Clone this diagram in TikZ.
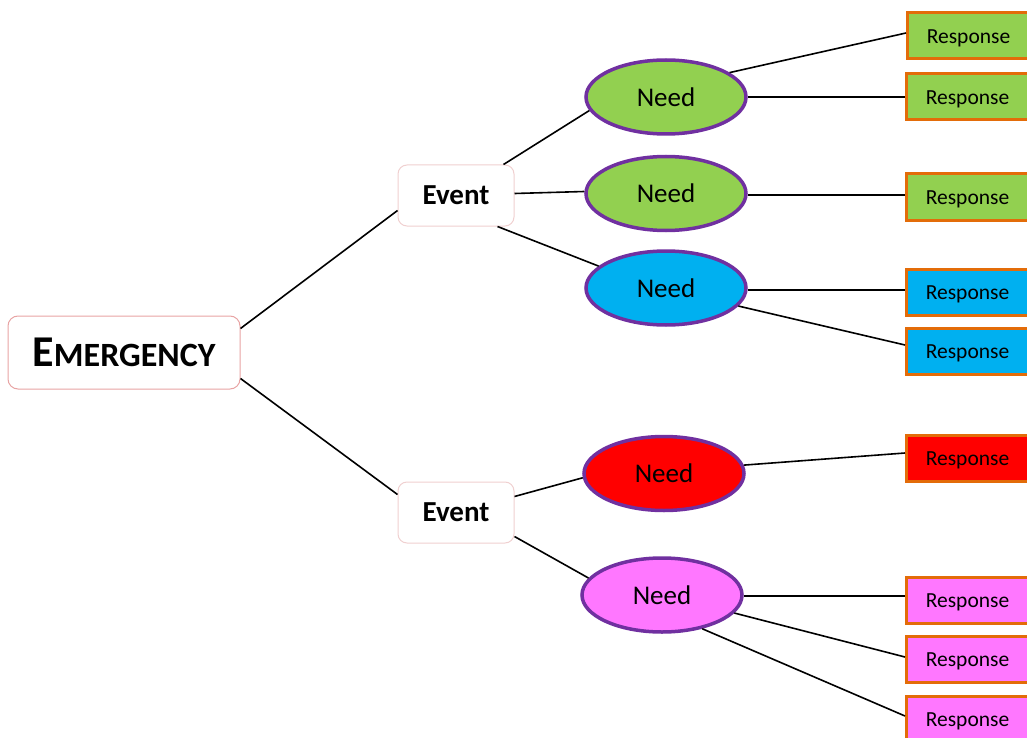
\documentclass[tikz,border=0pt]{standalone}
\usepackage{fontspec}
\setmainfont{Carlito}
\usetikzlibrary{shapes.geometric}
\definecolor{cgreen}{HTML}{92D050}
\definecolor{cblue}{HTML}{00B0F0}
\definecolor{cred}{HTML}{FF0000}
\definecolor{cpink}{HTML}{FF77FF}
\definecolor{cpurple}{HTML}{7030A0}
\definecolor{corange}{HTML}{E36C09}
\definecolor{emborder}{HTML}{E8A4A4}
\definecolor{evborder}{HTML}{F0D0D0}
\newcommand{\resptext}{\hspace*{-2pt}\raisebox{-2pt}{Response}}
\tikzset{
  embox/.style={draw=emborder, line width=1pt, rounded corners=10pt, fill=white, minimum width=232pt, minimum height=73pt, inner sep=0pt},
  evbox/.style={draw=evborder, line width=1pt, rounded corners=9pt, fill=white, minimum width=116pt, minimum height=61pt, inner sep=0pt, font=\fontsize{29}{32}\selectfont\bfseries},
  needell/.style={ellipse, draw=cpurple, line width=3.5pt, minimum width=160pt, minimum height=74pt, inner sep=0pt, font=\fontsize{27}{30}\selectfont},
  respbox/.style={draw=corange, line width=3pt, minimum width=124pt, minimum height=46pt, inner sep=0pt, font=\fontsize{21.5}{24}\selectfont, text depth=0pt},
  conn/.style={line width=1.6pt, black},
}
\begin{document}
\begin{tikzpicture}[x=1pt,y=-1pt]
\useasboundingbox (0,0) rectangle (1027,738);
\clip (0,0) rectangle (1027,738);
\node[embox] (em) at (124,352.5) {\fontsize{44}{46}\selectfont\bfseries E\fontsize{34}{36}\selectfont MERGENCY};
\node[evbox] (ev1) at (456,195.5) {\raisebox{-2pt}{Event}};
\node[evbox] (ev2) at (456,512.5) {\raisebox{-2pt}{Event}};
\node[needell, fill=cgreen] (n1) at (666,97) {Need};
\node[needell, fill=cgreen] (n2) at (666,193.5) {Need};
\node[needell, fill=cblue] (n3) at (666,288) {Need};
\node[needell, fill=cred] (n4) at (664,473.5) {Need};
\node[needell, fill=cpink] (n5) at (662,595) {Need};
\begin{scope}[every node/.style={respbox}]
\node[fill=cgreen, anchor=west] (r1) at (906,36) {\resptext};
\node[fill=cgreen, anchor=west] (r2) at (905,97) {\resptext};
\node[fill=cgreen, anchor=west] (r3) at (905,197) {\resptext};
\node[fill=cblue, anchor=west] (r4) at (905,292) {\resptext};
\node[fill=cblue, anchor=west] (r5) at (905,351) {\resptext};
\node[fill=cred, anchor=west] (r6) at (905,458) {\resptext};
\node[fill=cpink, anchor=west] (r7) at (905,600) {\resptext};
\node[fill=cpink, anchor=west] (r8) at (905,659) {\resptext};
\node[fill=cpink, anchor=west] (r9) at (905,719) {\resptext};
\end{scope}
\draw[conn] ([yshift=24pt]em.east) -- ([yshift=-15pt]ev1.west);
\draw[conn] ([yshift=-26pt]em.east) -- ([yshift=18pt]ev2.west);
\draw[conn] ([xshift=-11pt]ev1.north east) -- (n1.190);
\draw[conn] ([yshift=2pt]ev1.east) -- ([yshift=2pt]n2.west);
\draw[conn] ([xshift=-17pt]ev1.south east) -- (n3.162);
\draw[conn] ([yshift=16pt]ev2.east) -- (n4.183);
\draw[conn] ([yshift=-24pt]ev2.east) -- (n5.167);
\draw[conn] (n1.21) -- ([yshift=3pt]r1.west);
\draw[conn] (n1.east) -- (r2.west);
\draw[conn] ([yshift=-1.5pt]n2.east) -- ([yshift=2pt]r3.west);
\draw[conn] ([yshift=-2pt]n3.east) -- ([yshift=2pt]r4.west);
\draw[conn] (n3.-14) -- ([yshift=6pt]r5.west);
\draw[conn] (n4.6) -- ([yshift=5pt]r6.west);
\draw[conn] ([yshift=-1pt]n5.east) -- ([yshift=4pt]r7.west);
\draw[conn] (n5.-14) -- ([yshift=2pt]r8.west);
\draw[conn] (n5.-40) -- ([yshift=3pt]r9.west);
\end{tikzpicture}
\end{document}
